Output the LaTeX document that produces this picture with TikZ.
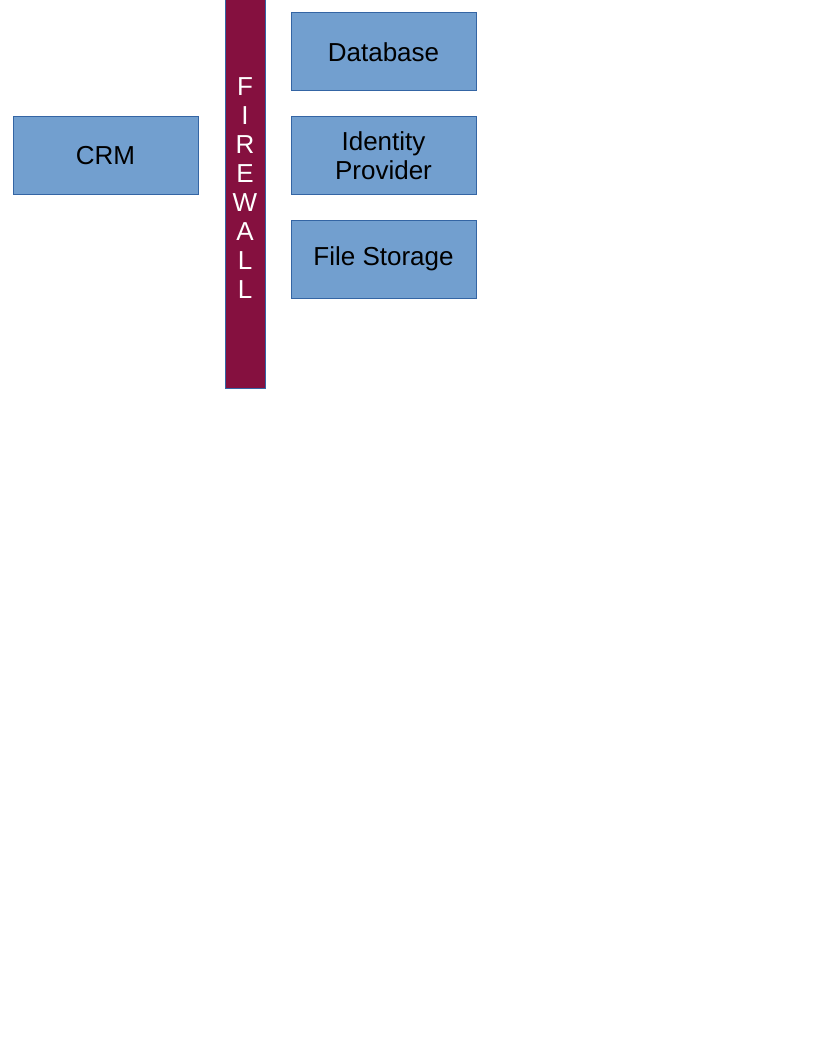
\documentclass[tikz,border=0pt]{standalone}
\usepackage{fontspec}
\setmainfont{Liberation Sans}
\definecolor{boxblue}{HTML}{729FCF}
\definecolor{edgeblue}{HTML}{3465A4}
\definecolor{wallred}{HTML}{85103F}
\begin{document}
\begin{tikzpicture}[x=0.75pt,y=-0.75pt,
  service/.style={draw=edgeblue,fill=boxblue,line width=0.75pt,inner sep=0pt,
    minimum width=138.75pt,minimum height=58.5pt,align=center,
    font=\fontsize{19.5}{21.75}\selectfont},
  wall/.style={draw=edgeblue,fill=wallred,line width=0.75pt,inner sep=0pt,
    minimum width=30pt,minimum height=299.25pt,align=center,text=white,
    font=\fontsize{19.5}{21.75}\selectfont}]
\useasboundingbox[fill=white] (0,0) rectangle (816,1056);
\node[wall] (firewall) at (245,188.5) {F\\I\\R\\E\\W\\A\\L\\L};
\node[service] (crm) at (105.5,155.5) {CRM};
\node[service] (database) at (383.5,52) {Database};
\node[service] (idp) at (383.5,155.5) {Identity\\Provider};
\node[service] (files) at (383.5,259) {File Storage};
\end{tikzpicture}
\end{document}
